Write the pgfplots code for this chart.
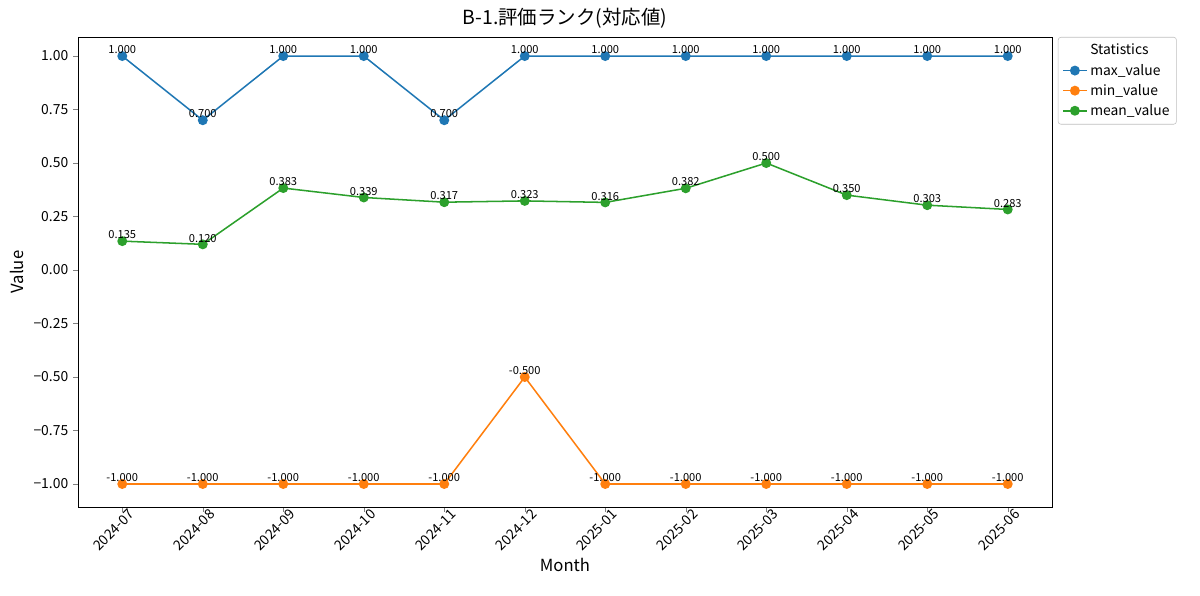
\documentclass[border=0pt]{standalone}
\usepackage{pgfplots}
\pgfplotsset{compat=1.18}
\usepackage{fontspec}
\setmainfont{Noto Sans CJK JP}
\definecolor{tblue}{HTML}{1F77B4}
\definecolor{torange}{HTML}{FF7F0E}
\definecolor{tgreen}{HTML}{2CA02C}
\begin{document}
\begin{tikzpicture}[x=1pt,y=1pt]
\path (0,0) rectangle (864,428.4);
\begin{axis}[
  at={(56.16pt,63.36pt)}, anchor=south west,
  scale only axis, width=701.28pt, height=338.4pt,
  xmin=-0.55, xmax=11.55, ymin=-1.1075, ymax=1.089,
  xtick={0,...,11},
  xticklabels={2024-07,2024-08,2024-09,2024-10,2024-11,2024-12,2025-01,2025-02,2025-03,2025-04,2025-05,2025-06},
  xticklabel style={rotate=45, anchor=north east, font=\fontsize{10}{12}\selectfont, inner sep=1pt, xshift=6pt},
  ytick={-1,-0.75,-0.5,-0.25,0,0.25,0.5,0.75,1},
  yticklabels={−1.00,−0.75,−0.50,−0.25,0.00,0.25,0.50,0.75,1.00},
  yticklabel style={font=\fontsize{10}{12}\selectfont},
  tick align=outside, xtick pos=bottom, ytick pos=left,
  major tick length=3.5pt,
  xlabel={Month}, ylabel={Value},
  xlabel style={font=\fontsize{12}{14}\selectfont},
  ylabel style={font=\fontsize{12}{14}\selectfont},
  title={B-1.評価ランク(対応値)},
  title style={font=\fontsize{14}{16}\selectfont, yshift=-3pt},
  legend style={at={(1.006,1)}, anchor=north west, font=\fontsize{10}{12}\selectfont, rounded corners=2pt, draw=black!25, row sep=1pt, inner sep=3pt},
  legend cell align=left,
  every axis plot/.append style={line width=1.1pt, mark=*, mark size=3pt},
  nodes near coords,
  every node near coord/.append style={font=\fontsize{8}{9}\selectfont, anchor=south, inner sep=1pt, text=black},
  nodes near coords style={/pgf/number format/.cd, fixed, fixed zerofill, precision=3, assume math mode=true},
]
\addlegendimage{empty legend}
\addlegendentry{\hspace{0pt}Statistics}
\addplot[color=tblue, mark options={fill=tblue}] coordinates {(0,1)(1,0.7)(2,1)(3,1)(4,0.7)(5,1)(6,1)(7,1)(8,1)(9,1)(10,1)(11,1)};
\addlegendentry{max\_value}
\addplot[color=torange, mark options={fill=torange}] coordinates {(0,-1)(1,-1)(2,-1)(3,-1)(4,-1)(5,-0.5)(6,-1)(7,-1)(8,-1)(9,-1)(10,-1)(11,-1)};
\addlegendentry{min\_value}
\addplot[color=tgreen, mark options={fill=tgreen}] coordinates {(0,0.135)(1,0.120)(2,0.383)(3,0.339)(4,0.317)(5,0.323)(6,0.316)(7,0.382)(8,0.500)(9,0.350)(10,0.303)(11,0.283)};
\addlegendentry{mean\_value}
\end{axis}
\end{tikzpicture}
\end{document}
